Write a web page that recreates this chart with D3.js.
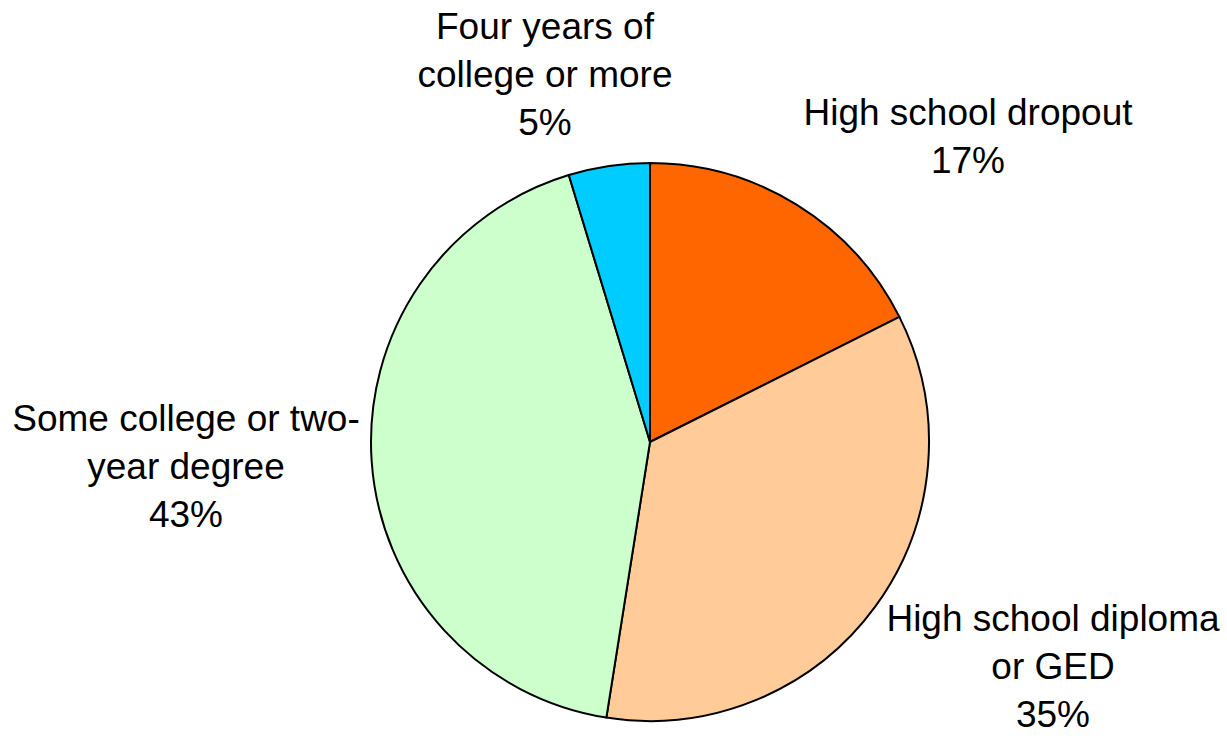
<!DOCTYPE html>
<html>
<head>
<meta charset="utf-8">
<script src="https://cdn.jsdelivr.net/npm/d3@7"></script>
<style>
  html, body { margin: 0; padding: 0; background: #fff; }
  svg { display: block; }
</style>
</head>
<body>
<svg id="chart" width="1227" height="736"></svg>
<script>
// Data (shares estimated from the slice boundaries)
const categories = ["High school dropout", "High school diploma or GED", "Some college or two-year degree", "Four years of college or more"];
const values = [17.6, 34.9, 42.8, 4.7];
const percentLabels = ["17%", "35%", "43%", "5%"];
const labelLines = [
  ["High school dropout"],
  ["High school diploma", "or GED"],
  ["Some college or two-", "year degree"],
  ["Four years of", "college or more"]
];
const colors = ["#FF6600", "#FFCC99", "#CCFFCC", "#00CCFF"];

// Layout
const cx = 650, cy = 442, radius = 279;
const labelPos = [
  { x: 968, y: 125 },
  { x: 1053, y: 631 },
  { x: 186, y: 431 },
  { x: 545, y: 39 }
];
const lineH = 48;

const svg = d3.select("#chart");
const g = svg.append("g").attr("transform", `translate(${cx},${cy})`);

const pie = d3.pie().sort(null).value(d => d).startAngle(0).endAngle(2 * Math.PI);
const arc = d3.arc().innerRadius(0).outerRadius(radius);

g.selectAll("path")
  .data(pie(values))
  .join("path")
  .attr("d", arc)
  .attr("fill", (d, i) => colors[i])
  .attr("stroke", "#000")
  .attr("stroke-width", 2)
  .attr("stroke-linejoin", "round");

const labels = svg.append("g")
  .attr("font-family", "'Liberation Sans', Arial, Helvetica, sans-serif")
  .attr("font-size", 37)
  .attr("fill", "#000")
  .attr("text-anchor", "middle");

categories.forEach((c, i) => {
  const lines = labelLines[i].concat([percentLabels[i]]);
  const t = labels.append("text")
    .attr("x", labelPos[i].x)
    .attr("y", labelPos[i].y);
  lines.forEach((ln, j) => {
    t.append("tspan")
      .attr("x", labelPos[i].x)
      .attr("y", labelPos[i].y + j * lineH)
      .text(ln);
  });
});
</script>
</body>
</html>
